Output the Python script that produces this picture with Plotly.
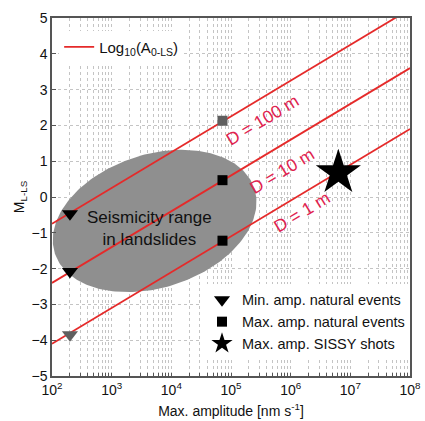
import numpy as np
import plotly.graph_objects as go

# ---- data ----
line_logA = [2, 8]                      # log10 amplitude endpoints of the scaling lines
line_M = {                              # M_L-LS at those endpoints
    "D = 1 m": [-4.1, 1.9],
    "D = 10 m": [-2.4, 3.6],
    "D = 100 m": [-0.75, 5.25],
}
label_pos = {                           # (log10 A, M) centre of each rotated label
    "D = 1 m": (6.19, -0.42),
    "D = 10 m": (5.85, 0.74),
    "D = 100 m": (5.53, 2.14),
}

min_amp_x = [200, 200]
min_amp_y = [-0.47, -2.08]
min_amp_grey_x = [200]
min_amp_grey_y = [-3.85]

max_amp_x = [7.2e4, 7.2e4]
max_amp_y = [0.47, -1.22]
max_amp_grey_x = [7.2e4]
max_amp_grey_y = [2.13]

sissy_x = [6.3e6]
sissy_y = [0.68]

# ellipse "Seismicity range in landslides"
ell_center = (3.72, -0.67)     # (log10 A, M)
ell_axes = (2.93, 1.86)        # semi-axes in M units
ell_theta_deg = 18
decade_per_M = 0.6             # visual aspect: 1 M unit ~ 0.6 decade

x_ticks_exp = [2, 3, 4, 5, 6, 7, 8]
y_ticks = [-5, -4, -3, -2, -1, 0, 1, 2, 3, 4, 5]

RED = "#e52a2a"
LABEL = "#e0234f"
FONT = "Liberation Sans, Arial, sans-serif"

fig = go.Figure()

# ellipse
t = np.linspace(0, 2 * np.pi, 241)
th = np.deg2rad(ell_theta_deg)
a, b = ell_axes
u = a * np.cos(t) * np.cos(th) - b * np.sin(t) * np.sin(th)
v = a * np.cos(t) * np.sin(th) + b * np.sin(t) * np.cos(th)
ex = 10 ** (ell_center[0] + u * decade_per_M)
ey = ell_center[1] + v
fig.add_trace(go.Scatter(x=ex, y=ey, mode="lines", fill="toself",
                         fillcolor="#8f8f8f", line=dict(width=0, color="#8f8f8f"),
                         showlegend=False, hoverinfo="skip"))

# lines
for i, (name, ys) in enumerate(line_M.items()):
    fig.add_trace(go.Scatter(
        x=[10 ** v_ for v_ in line_logA], y=ys, mode="lines",
        line=dict(color=RED, width=1.8),
        name="Log<sub>10</sub>(A<sub>0-LS</sub>)",
        showlegend=(i == 0), legend="legend"))

# markers
fig.add_trace(go.Scatter(x=min_amp_grey_x, y=min_amp_grey_y, mode="markers",
                         marker=dict(symbol="triangle-down", size=14, color="#5f5f5f"),
                         showlegend=False))
fig.add_trace(go.Scatter(x=min_amp_x, y=min_amp_y, mode="markers",
                         marker=dict(symbol="triangle-down", size=14, color="black"),
                         name="Min. amp. natural events", legend="legend2"))
fig.add_trace(go.Scatter(x=max_amp_grey_x, y=max_amp_grey_y, mode="markers",
                         marker=dict(symbol="square", size=10, color="#5f5f5f"),
                         showlegend=False))
fig.add_trace(go.Scatter(x=max_amp_x, y=max_amp_y, mode="markers",
                         marker=dict(symbol="square", size=10, color="black"),
                         name="Max. amp. natural events", legend="legend2"))
fig.add_trace(go.Scatter(x=sissy_x, y=sissy_y, mode="markers",
                         marker=dict(symbol="star", size=34, color="black"),
                         name="Max. amp. SISSY shots", legend="legend2"))

# annotations
for name, (lx, ly) in label_pos.items():
    fig.add_annotation(x=lx, y=ly, xref="x", yref="y", text=name, showarrow=False,
                       textangle=-31, font=dict(size=17.5, color=LABEL, family=FONT))
fig.add_annotation(x=3.64, y=-0.87, xref="x", yref="y",
                   text="Seismicity range<br>in landslides", showarrow=False,
                   font=dict(size=17, color="#111111", family=FONT))

# ticks: all decades and minor positions, labels only on decades
tickvals, ticktext = [], []
for e in x_ticks_exp:
    for m in range(1, 10):
        if e == x_ticks_exp[-1] and m > 1:
            break
        tickvals.append(m * 10 ** e)
        ticktext.append(f"10<sup>{e}</sup>" if m == 1 else "")

fig.update_xaxes(type="log", range=[2, 8], tickvals=tickvals, ticktext=ticktext,
                 showgrid=True, gridcolor="#c4c4c4", griddash="dot", gridwidth=1,
                 ticks="inside", ticklen=3, tickcolor="#555", showline=True,
                 linecolor="#555", linewidth=1.5, mirror=True, zeroline=False,
                 automargin=False,
                 tickfont=dict(size=14, family=FONT, color="#111"),
                 title=dict(text="Max. amplitude [nm s<sup>-1</sup>]",
                            font=dict(size=14, family=FONT, color="#111"), standoff=10))
fig.update_yaxes(range=[-5, 5], tickvals=y_ticks, ticktext=[str(v_).replace("-", "\u2212") for v_ in y_ticks],
                 showgrid=True, gridcolor="#c4c4c4", griddash="dot", gridwidth=1,
                 ticks="inside", ticklen=4, tickcolor="#555", showline=True,
                 linecolor="#555", linewidth=1.5, mirror=True, zeroline=False,
                 automargin=False,
                 tickfont=dict(size=14, family=FONT, color="#111"),
                 title=dict(text="M<sub>L-LS</sub>",
                            font=dict(size=14, family=FONT, color="#111"), standoff=4))

fig.update_layout(
    width=425, height=421,
    margin=dict(l=52, r=15, t=18, b=45),
    plot_bgcolor="white", paper_bgcolor="white",
    font=dict(family=FONT, color="#111"),
    legend=dict(x=0.02, y=0.965, xanchor="left", yanchor="top",
                bgcolor="white", font=dict(size=15, family=FONT, color="#111"),
                itemwidth=30),
    legend2=dict(x=1.0, y=0.045, xanchor="right", yanchor="bottom",
                 bgcolor="white", font=dict(size=14.5, family=FONT, color="#111"),
                 itemsizing="trace", tracegroupgap=0, itemwidth=30),
)

fig.write_html("out.html")
